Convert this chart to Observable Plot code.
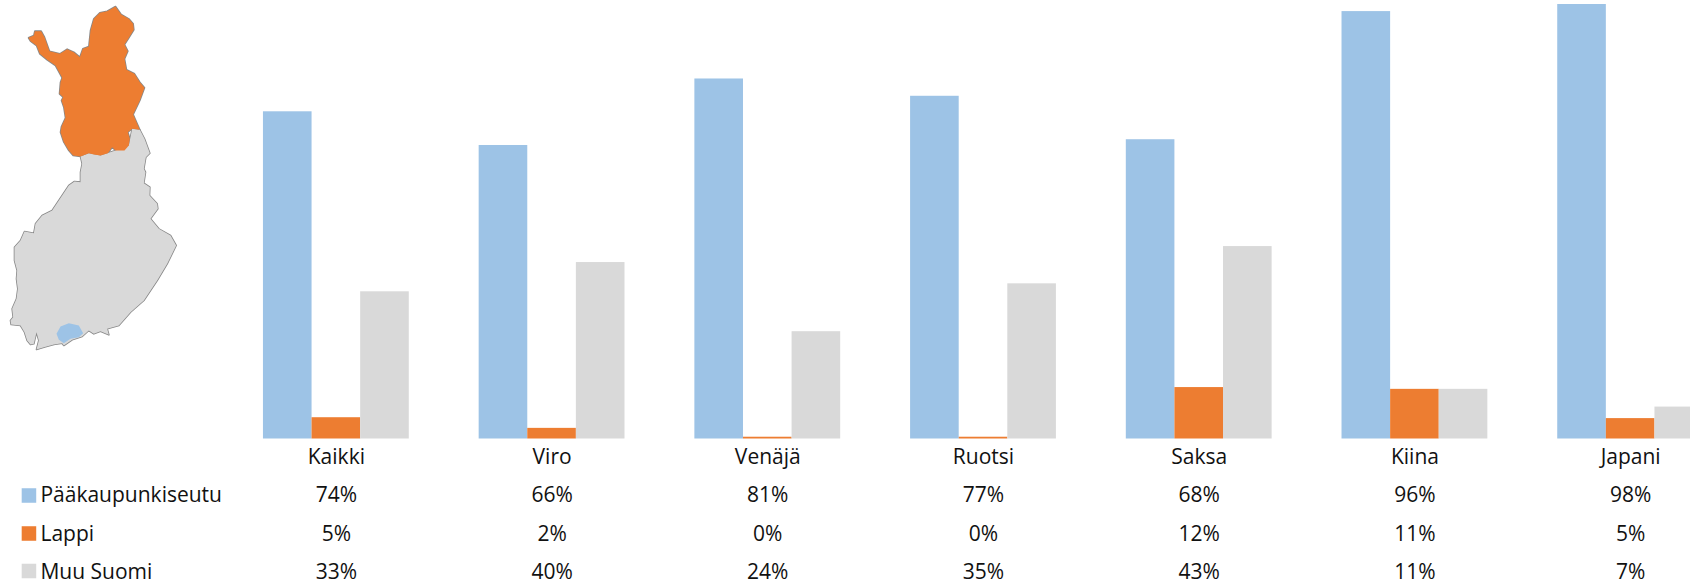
<!DOCTYPE html>
<html><head><meta charset="utf-8">
<script src="https://cdn.jsdelivr.net/npm/d3@7"></script>
<script src="https://cdn.jsdelivr.net/npm/@observablehq/plot@0.6"></script>
<style>html,body{margin:0;padding:0;background:#fff;overflow:hidden}#c{position:relative;width:1690px;height:582px}#c svg{position:absolute;left:0;top:0}</style>
</head><body><div id="c"></div>
<script>
const categories = ["Kaikki","Viro","Venäjä","Ruotsi","Saksa","Kiina","Japani"];
const seriesNames = ["Pääkaupunkiseutu","Lappi","Muu Suomi"];
const seriesColors = ["#9DC3E6","#ED7D31","#D9D9D9"];
const capital = [73.8,66.2,81.2,77.3,67.5,96.4,98];
const lapland = [4.8,2.4,0.4,0.4,11.6,11.2,4.6];
const rest = [33.2,39.8,24.2,35,43.4,11.2,7.2];
const regionValues = [capital, lapland, rest];

const mapLapland = [[84,112],[100,105],[103,92],[122,92],[132,110],[147,152],[178,160],[200,146],[220,155],[238,170],[247,145],[265,138],[270,90],[280,55],[298,37],[320,32],[345,18],[362,42],[385,55],[398,70],[400,88],[385,112],[372,132],[382,152],[372,175],[378,208],[402,220],[418,245],[432,262],[418,300],[398,342],[418,388],[395,385],[382,395],[388,415],[385,435],[372,450],[345,450],[335,440],[322,458],[300,465],[280,462],[265,458],[240,468],[218,465],[205,450],[190,425],[180,395],[183,378],[195,352],[190,320],[183,300],[188,290],[177,280],[180,245],[185,232],[165,195],[140,178],[118,160],[108,135],[90,122],[84,112]];
const mapSouth = [[418,388],[432,415],[448,458],[436,470],[430,505],[435,515],[430,548],[448,560],[447,585],[470,610],[472,625],[450,655],[475,685],[510,705],[527,735],[500,790],[470,840],[430,900],[390,935],[355,975],[320,985],[325,1003],[300,992],[280,1000],[265,990],[245,1008],[215,1018],[190,1035],[185,1028],[160,1032],[130,1040],[108,1047],[115,1020],[108,995],[100,1030],[90,1032],[80,1020],[72,995],[60,975],[32,972],[30,960],[38,950],[35,925],[48,895],[52,865],[48,835],[50,810],[42,780],[42,740],[60,720],[72,693],[100,698],[105,670],[125,645],[155,630],[175,600],[205,555],[222,543],[240,545],[240,515],[245,490],[240,468],[265,458],[300,465],[345,450],[385,435],[395,385],[418,388]];
const mapCapital = [[168,1000],[180,978],[205,968],[235,975],[248,998],[235,1010],[210,1015],[190,1028],[175,1018],[168,1000]];

const rows = seriesNames.flatMap((s,i)=>categories.map((c,j)=>({cat:c,series:s,value:regionValues[i][j]})));
const legend = seriesNames.map((s,i)=>({series:s}));
const font = "'Open Sans', 'Noto Sans', sans-serif";
const rowDy = [63, 102, 140];
const swatchDy = [56.5, 94.5, 132];
const textStyle = {fill:"#111", fontSize:21, fontFamily:font};

const chart = Plot.plot({
  width:1690, height:582,
  marginTop:4, marginBottom:143.5, marginLeft:228, marginRight:0,
  style:{background:"transparent", fontFamily:font},
  fx:{domain:categories, range:[228,1738], paddingInner:0.324, paddingOuter:0.162, round:false, axis:null, label:null},
  x:{domain:seriesNames, padding:0, round:false, axis:null},
  y:{domain:[0,98], axis:null},
  color:{domain:seriesNames, range:seriesColors},
  marks:[
    Plot.barY(rows,{fx:"cat",x:"series",y:"value",fill:"series"}),
    Plot.text(categories,{fx:d=>d,text:d=>d,frameAnchor:"bottom",dy:24.5,...textStyle}),
    ...seriesNames.map((s,i)=>Plot.text(rows.filter(r=>r.series===s),{fx:"cat",text:d=>Math.round(d.value)+"%",frameAnchor:"bottom",dy:rowDy[i],...textStyle})),
    ...seriesNames.map((s,i)=>Plot.dot([legend[i]],{facet:"super",fill:"series",symbol:"square",r:8.2,frameAnchor:"bottom-left",dx:-234.5,dy:swatchDy[i]})),
    ...seriesNames.map((s,i)=>Plot.text([legend[i]],{facet:"super",text:"series",frameAnchor:"bottom-left",textAnchor:"start",dx:-223,dy:rowDy[i],...textStyle}))
  ]
});
document.getElementById("c").append(chart);

const poly = (pts)=>({type:"Polygon",coordinates:[pts.map(([x,y])=>[x/3,y/3])]});
const map = Plot.plot({
  width:190, height:360, margin:0,
  style:{background:"transparent"},
  projection:{type:"identity"},
  marks:[
    Plot.geo([poly(mapSouth),poly(mapLapland)],{fill:"none",stroke:"#888",strokeWidth:1.6}),
    Plot.geo([poly(mapSouth)],{fill:"#D9D9D9"}),
    Plot.geo([poly(mapLapland)],{fill:"#ED7D31"}),
    Plot.geo([poly(mapCapital)],{fill:"#9DC3E6"})
  ]
});
document.getElementById("c").append(map);
</script>
</body></html>
